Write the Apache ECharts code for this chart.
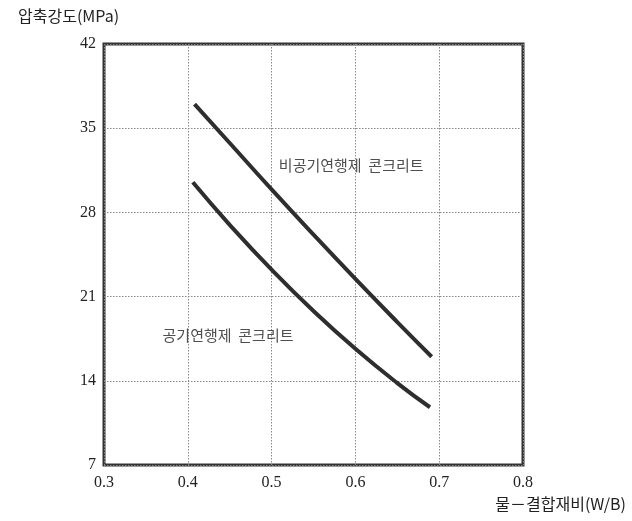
<!DOCTYPE html>
<html>
<head>
<meta charset="utf-8">
<script src="https://cdn.jsdelivr.net/npm/echarts@6/dist/echarts.min.js"></script>
<style>html,body{margin:0;padding:0;background:#fff;}#c{width:632px;height:521px;}</style>
</head>
<body>
<div id="c"></div>
<script>
var xTicks = [0.3, 0.4, 0.5, 0.6, 0.7, 0.8];
var yTicks = [7, 14, 21, 28, 35, 42];
var nonAE = [[0.408,37.0],[0.45,33.77],[0.5,29.91],[0.55,26.15],[0.6,22.47],[0.65,18.88],[0.691,16.0]];
var AE = [[0.406,30.5],[0.45,26.97],[0.5,23.24],[0.55,19.8],[0.6,16.66],[0.65,13.81],[0.689,11.8]];
var labelNames = ['비공기연행제  콘크리트', '공기연행제  콘크리트'];
var labelPos = [[0.595, 31.9], [0.448, 17.8]];
var yTitle = '압축강도(MPa)';
var xTitle = '물－결합재비(W/B)';

var chart = echarts.init(document.getElementById('c'));
var serif = '"Liberation Serif", "DejaVu Serif", serif';
var kr = '"Noto Sans CJK KR", sans-serif';
chart.setOption({
  animation: false,
  grid: {left: 104, right: 109, top: 44, bottom: 56, show: true, borderColor: '#333', borderWidth: 3, backgroundColor: 'transparent'},
  xAxis: {
    type: 'value', min: xTicks[0], max: xTicks[xTicks.length-1], interval: 0.1,
    axisLine: {show: false}, axisTick: {show: false},
    axisLabel: {formatter: function(v){return v.toFixed(1);}, color: '#222', fontFamily: serif, fontSize: 16, margin: 10},
    splitLine: {show: true, lineStyle: {color: '#888', type: [1.5, 1.5], width: 1}}
  },
  yAxis: {
    type: 'value', min: yTicks[0], max: yTicks[yTicks.length-1], interval: 7,
    axisLine: {show: false}, axisTick: {show: false},
    axisLabel: {color: '#222', fontFamily: serif, fontSize: 16, margin: 8},
    splitLine: {show: true, lineStyle: {color: '#888', type: [1.5, 1.5], width: 1}}
  },
  graphic: [
    {type: 'text', left: 18, top: 8, style: {text: yTitle, font: '16px ' + kr, fill: '#222'}},
    {type: 'text', right: 6, top: 496, style: {text: xTitle, font: '16px ' + kr, fill: '#222'}}
  ],
  series: [
    {type: 'line', data: nonAE, smooth: 0.5, showSymbol: false, lineStyle: {color: '#2e2e2e', width: 4, cap: 'butt'}},
    {type: 'line', data: AE, smooth: 0.5, showSymbol: false, lineStyle: {color: '#2e2e2e', width: 4, cap: 'butt'}},
    {type: 'scatter', symbolSize: 0, silent: true,
     data: labelPos.map(function(p, i){ return {value: p, name: labelNames[i]}; }),
     label: {show: true, position: 'inside', formatter: '{b}', color: '#222', fontFamily: kr, fontSize: 15}}
  ]
});
</script>
</body>
</html>
